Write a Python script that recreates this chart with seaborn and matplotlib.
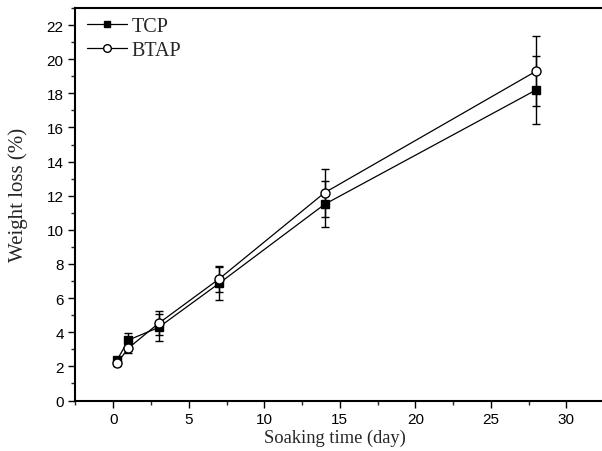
import matplotlib
matplotlib.use("Agg")
import matplotlib.pyplot as plt
from matplotlib.ticker import MultipleLocator
import numpy as np
import pandas as pd
import seaborn as sns

# Soaking time (days) and weight loss (%) with standard deviations
days = [0.25, 1, 3, 7, 14, 28]
tcp_loss = [2.37, 3.54, 4.28, 6.86, 11.5, 18.2]
tcp_err = [0.2, 0.4, 0.78, 0.95, 1.35, 2.0]
btap_loss = [2.18, 3.07, 4.52, 7.12, 12.18, 19.3]
btap_err = [0.15, 0.3, 0.7, 0.75, 1.4, 2.05]

x_ticks = [0, 5, 10, 15, 20, 25, 30]
y_ticks = [0, 2, 4, 6, 8, 10, 12, 14, 16, 18, 20, 22]

df = pd.concat([
    pd.DataFrame({"day": days, "loss": tcp_loss, "err": tcp_err, "sample": "TCP"}),
    pd.DataFrame({"day": days, "loss": btap_loss, "err": btap_err, "sample": "BTAP"}),
])

sns.set_style("ticks")
plt.rcParams["font.family"] = ["Liberation Sans", "DejaVu Sans"]

fig = plt.figure(figsize=(6.02, 4.52), dpi=100)
ax = fig.add_axes([0.1254, 0.1117, 0.878, 0.8683])

styles = {
    "TCP": dict(marker="s", markersize=5.5, markerfacecolor="black", markeredgecolor="black"),
    "BTAP": dict(marker="o", markersize=6.5, markerfacecolor="white", markeredgecolor="black"),
}

for name in ["TCP", "BTAP"]:
    sub = df[df["sample"] == name]
    ax.errorbar(sub["day"], sub["loss"], yerr=sub["err"], fmt="none",
                ecolor="black", elinewidth=1.0, capsize=3, capthick=1.0, zorder=2)
    sns.lineplot(data=sub, x="day", y="loss", ax=ax, color="black", linewidth=0.9,
                 label=name, markeredgewidth=1.0, zorder=3, **styles[name])

ax.set_xlim(-2.5, 32.5)
ax.set_ylim(0, 23)
ax.set_xticks(x_ticks)
ax.set_yticks(y_ticks)
ax.xaxis.set_minor_locator(MultipleLocator(2.5))
ax.yaxis.set_minor_locator(MultipleLocator(1))
ax.tick_params(which="major", direction="out", length=5, width=1.0, labelsize=11, colors="black")
ax.tick_params(which="minor", direction="out", length=3, width=1.0)

for side in ["left", "bottom", "top", "right"]:
    ax.spines[side].set_visible(True)
    ax.spines[side].set_linewidth(1.5)
    ax.spines[side].set_color("black")

serif = ["Liberation Serif", "DejaVu Serif"]
ax.set_xlabel("Soaking time (day)", family=serif, fontsize=13.3)
ax.set_ylabel("Weight loss (%)", family=serif, fontsize=15)
ax.xaxis.set_label_coords(0.49, -0.072)
ax.yaxis.set_label_coords(-0.09, 0.526)

leg = ax.legend(loc="upper left", frameon=False, prop={"family": serif, "size": 14.5},
                handlelength=2.0, handletextpad=0.2, borderaxespad=0.05, labelspacing=0.25,
                markerscale=0.85, bbox_to_anchor=(0.005, 1.0))

fig.savefig("out.png", dpi=100)
